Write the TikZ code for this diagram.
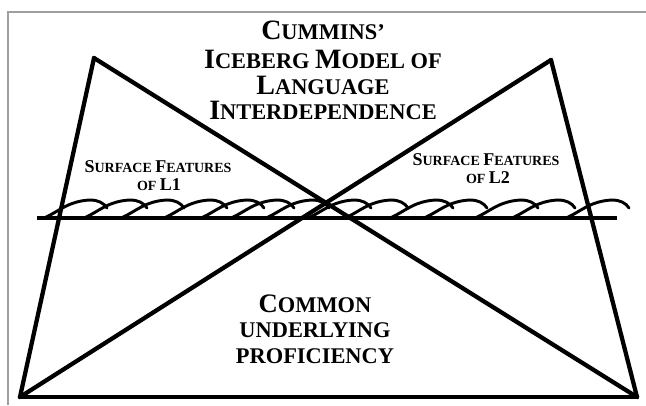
\documentclass[tikz,border=0pt]{standalone}
\usepackage{fontspec}
\setmainfont{Liberation Serif}
\newcommand\ttlBig[1]{{\fontsize{21}{22}\selectfont #1}}
\newcommand\ttlSm[1]{{\fontsize{16.8}{22}\selectfont #1}}
\newcommand\lowBig[1]{{\fontsize{20}{22}\selectfont #1}}
\newcommand\lowSm[1]{{\fontsize{16.8}{22}\selectfont #1}}
\newcommand\surBig[1]{{\fontsize{13.5}{14}\selectfont #1}}
\newcommand\surSm[1]{{\fontsize{10.5}{14}\selectfont #1}}
\tikzset{
  frame/.style={draw=gray!75, line width=1pt},
  edge/.style={draw=black, line width=3.2pt, line cap=round},
  water/.style={draw=black, line width=2.3pt},
  wave/.style={draw=black, line width=2.2pt, line cap=round},
  lbl/.style={anchor=base, inner sep=0pt, font=\bfseries}
}
\begin{document}
\begin{tikzpicture}[x=0.75pt, y=-0.75pt]
\useasboundingbox[fill=white] (0,0) rectangle (646,405);
% frame
\coordinate (fbl) at (8,405);
\coordinate (ftl) at (8,12);
\coordinate (ftr) at (646,12);
\draw[frame] (fbl) -- (ftl) -- (ftr);
% vertices
\coordinate (la) at (94,58);
\coordinate (ra) at (551,60);
\coordinate (bl) at (20,397);
\coordinate (br) at (637,397);
\draw[edge] (la) -- (bl);
\draw[edge] (la) -- (br);
\draw[edge] (ra) -- (bl);
\draw[edge] (ra) -- (br);
\draw[edge] (bl) -- (br);
% waterline
\coordinate (wl) at (37,218);
\coordinate (wr) at (617,218);
\draw[water] (wl) -- (wr);
\foreach \c in {90,130,167,210,247,277,312,354,391,436,470,521,558,612}{
  \draw[wave] ({\c-44},217) .. controls ({\c-32},212) and ({\c-22},201) .. (\c,200)
     .. controls ({\c+8},200) and ({\c+14},203) .. ({\c+17},208);
}
% title
\node[lbl] (t1) at (323,39) {\ttlBig{C}\ttlSm{UMMINS’}};
\node[lbl] (t2) at (323,68) {\ttlBig{I}\ttlSm{CEBERG }\ttlBig{M}\ttlSm{ODEL OF}};
\node[lbl] (t3) at (323,94) {\ttlBig{L}\ttlSm{ANGUAGE}};
\node[lbl] (t4) at (323,119) {\ttlBig{I}\ttlSm{NTERDEPENDENCE}};
% surface labels
\node[lbl] (s1) at (158,172) {\surBig{S}\surSm{URFACE }\surBig{F}\surSm{EATURES}};
\node[lbl] (s2) at (159,190) {\surSm{OF }\surBig{L1}};
\node[lbl] (s3) at (486,165) {\surBig{S}\surSm{URFACE }\surBig{F}\surSm{EATURES}};
\node[lbl] (s4) at (488,183) {\surSm{OF }\surBig{L2}};
% bottom text
\node[lbl] (c1) at (315,312) {\lowBig{C}\lowSm{OMMON}};
\node[lbl] (c2) at (315,337) {\lowSm{UNDERLYING}};
\node[lbl] (c3) at (315,363) {\lowSm{PROFICIENCY}};
\end{tikzpicture}
\end{document}
